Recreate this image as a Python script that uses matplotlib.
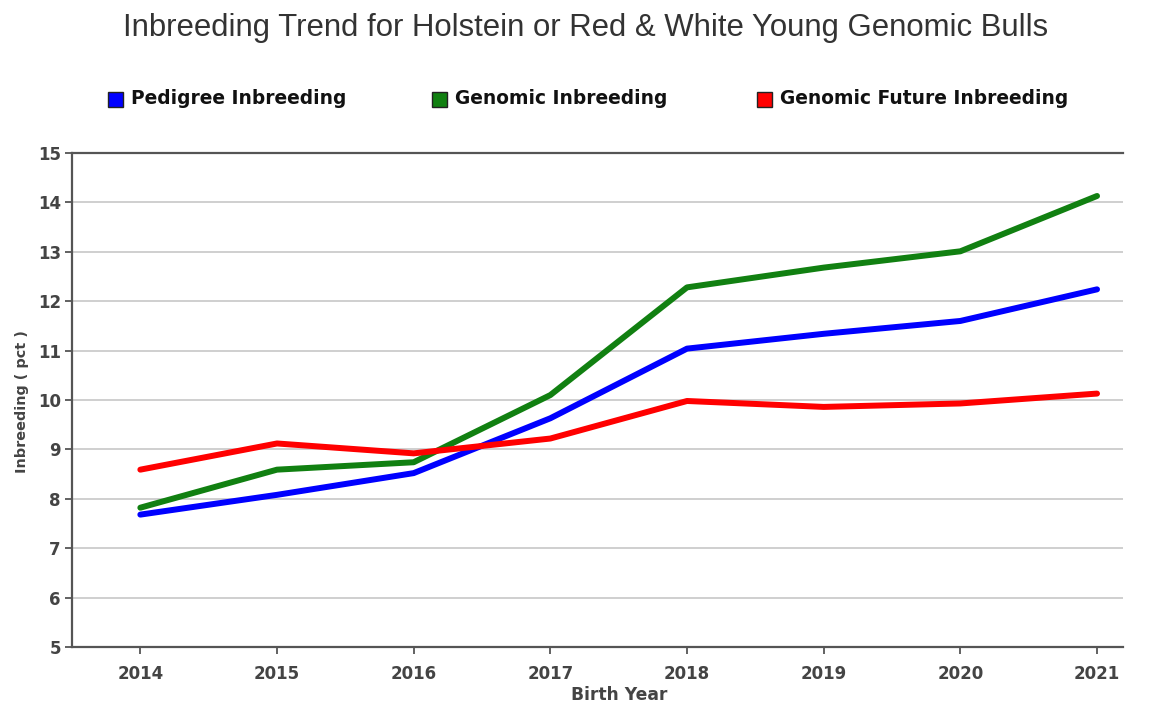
import matplotlib
matplotlib.use("Agg")
import matplotlib.pyplot as plt
from matplotlib.patches import Rectangle

years = [2014, 2015, 2016, 2017, 2018, 2019, 2020, 2021]
pedigree = [7.68, 8.08, 8.52, 9.63, 11.04, 11.34, 11.60, 12.24]
genomic = [7.82, 8.59, 8.74, 10.10, 12.28, 12.68, 13.01, 14.13]
genomic_future = [8.59, 9.12, 8.92, 9.22, 9.98, 9.86, 9.93, 10.13]

series_names = ["Pedigree Inbreeding", "Genomic Inbreeding", "Genomic Future Inbreeding"]
series_values = [pedigree, genomic, genomic_future]
series_colors = ["#0000ff", "#118011", "#ff0000"]
y_ticks = [5, 6, 7, 8, 9, 10, 11, 12, 13, 14, 15]

W, H = 1153, 706
fig = plt.figure(figsize=(W / 100, H / 100), dpi=100)
fig.patch.set_facecolor("white")

ax = fig.add_axes([72 / W, 1 - 647 / H, (1123 - 72) / W, (647 - 153) / H])

for vals, col in zip(series_values, series_colors):
    ax.plot(years, vals, color=col, lw=4.3, solid_capstyle="round",
            solid_joinstyle="round", zorder=3)

ax.set_xlim(2013.5, 2021.19)
ax.set_ylim(5, 15)
ax.set_xticks(years)
ax.set_xticklabels([str(y) for y in years])
ax.set_yticks(y_ticks)
ax.yaxis.grid(True, color="#cccccc", lw=1.3)
ax.set_axisbelow(True)

for side in ["left", "bottom", "top"]:
    ax.spines[side].set_color("#555555")
    ax.spines[side].set_linewidth(1.6)
ax.spines["right"].set_visible(False)

ax.tick_params(axis="both", colors="#555555", length=5, width=1.3,
               labelcolor="#444444", labelsize=12)
for lbl in ax.get_xticklabels() + ax.get_yticklabels():
    lbl.set_fontweight("bold")
ax.tick_params(axis="x", pad=8)
ax.tick_params(axis="y", pad=3)

# axis titles
fig.text(22 / W, 1 - 402 / H, "Inbreeding ( pct )", rotation=90,
         ha="center", va="center", fontsize=10.4, fontweight="bold", color="#444444")
fig.text(619 / W, 1 - 695 / H, "Birth Year", ha="center", va="center",
         fontsize=12.3, fontweight="bold", color="#444444")

fig.text(586 / W, 1 - 28 / H,
         "Inbreeding Trend for Holstein or Red & White Young Genomic Bulls",
         ha="center", va="center", fontsize=22.4, color="#333333",
         family="Liberation Sans")

# legend row
leg_x = [108, 432, 757]
leg_y = 99
sq = 15
for x0, name, col in zip(leg_x, series_names, series_colors):
    fig.patches.append(Rectangle((x0 / W, 1 - (leg_y + sq / 2) / H), sq / W, sq / H,
                                 transform=fig.transFigure, facecolor=col,
                                 edgecolor="#222222", lw=1.0))
    fig.text((x0 + sq + 8) / W, 1 - leg_y / H, name, ha="left", va="center",
             fontsize=13.4, fontweight="bold", color="#111111")

fig.savefig("out.png", dpi=100)
